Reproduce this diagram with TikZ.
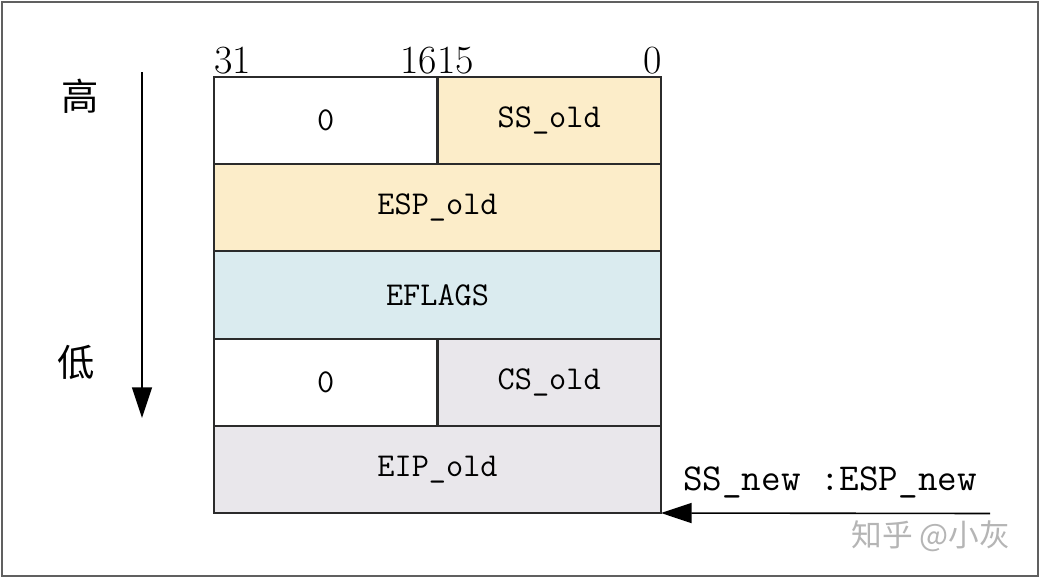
\documentclass[tikz,border=0pt]{standalone}
\usepackage{fontspec}
\newfontfamily\cjk{Noto Sans CJK SC}
\usetikzlibrary{arrows.meta}
\definecolor{segbeige}{HTML}{FCEDC9}
\definecolor{flagblue}{HTML}{DAEBEF}
\definecolor{codegray}{HTML}{E9E7EB}
\definecolor{edge}{HTML}{2B2B2B}
\definecolor{mark}{HTML}{B5B5B5}
\begin{document}
\begin{tikzpicture}[x=0.75pt,y=-0.75pt,
  cell/.style={inner sep=0pt, outer sep=0pt,
    anchor=north west, minimum height=65.4pt, font=\fontsize{25}{26}\selectfont\ttfamily},
  half/.style={cell, minimum width=167.6pt},
  full/.style={cell, minimum width=335.25pt},
  border/.style={draw=edge, line width=1.6pt},
  bitno/.style={inner sep=0pt, font=\fontsize{30}{32}\selectfont},
  hanzi/.style={inner sep=0pt, font=\fontsize{28}{30}\selectfont\cjk},
  arr/.style={draw=black, line width=1.2pt, -{Triangle[length=23pt,width=15pt]}}
]
\useasboundingbox (0,0) rectangle (1040,578);
\fill[white] (0,0) rectangle (1040,578);
\draw[line width=1.5pt, draw=gray!75!black] (2,2) rectangle (1038,576);

% stack frame, highest address on top
\node[half] (zss)  at (214,77)    {0};
\node[half, fill=segbeige] (ss) at (437.5,77) {SS\_old};
\node[full, fill=segbeige] (esp) at (214,164.2) {ESP\_old};
\node[full, fill=flagblue] (efl) at (214,251.4) {EFLAGS};
\node[half] (zcs)  at (214,338.6) {0};
\node[half, fill=codegray] (cs) at (437.5,338.6) {CS\_old};
\node[full, fill=codegray] (eip) at (214,425.8) {EIP\_old};
% cell outlines drawn after all fills so shared edges keep full width
\foreach \c in {zss,ss,esp,efl,zcs,cs,eip}
  \draw[border] (\c.north west) rectangle (\c.south east);

% bit positions
\node[bitno, anchor=base west] (b31) at (214,73) {31};
\node[bitno, anchor=base east] (b16) at (437,73) {16};
\node[bitno, anchor=base west] (b15) at (437,73) {15};
\node[bitno, anchor=base east] (b0)  at (662,73) {0};

% address direction
\node[hanzi] (hi) at (80,96) {高};
\node[hanzi] (lo) at (76,362) {低};
\coordinate (top) at (142,72);
\coordinate (bottom) at (142,418);
\draw[arr] (top) -- (bottom);

% new stack pointer
\node[inner sep=0pt, anchor=base west, font=\fontsize{28.5}{30}\selectfont\ttfamily] (newsp) at (683,490) {SS\_new :ESP\_new};
\coordinate (src) at (990,513.5);
\draw[arr] (src) -- (eip.south east);

\node[inner sep=0pt, text=mark, font=\fontsize{23}{25}\selectfont\cjk] (wm) at (931,536) {知乎 @小灰};
\end{tikzpicture}
\end{document}
